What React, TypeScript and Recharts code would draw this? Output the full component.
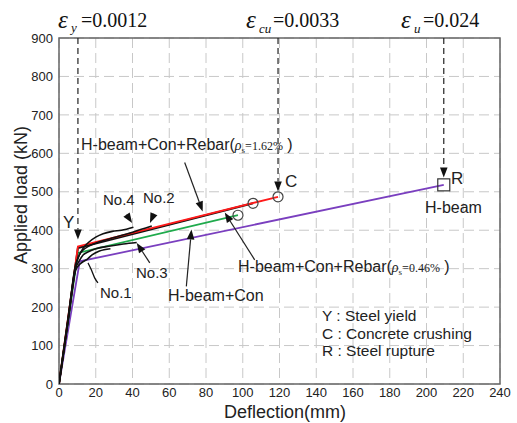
import React from 'react';
import {
  LineChart, Line, XAxis, YAxis, CartesianGrid, ReferenceLine, ReferenceDot, ReferenceArea, Customized,
} from 'recharts';

const xTicks = [0, 20, 40, 60, 80, 100, 120, 140, 160, 180, 200, 220, 240];
const yTicks = [0, 100, 200, 300, 400, 500, 600, 700, 800, 900];

// Analytical curves
const rebar162X = [0, 10.3, 119.2];
const rebar162Y = [0, 358, 487];
const rebar046X = [0, 10.3, 105.6];
const rebar046Y = [0, 354, 470];
const hbeamConX = [0, 10.3, 97.4];
const hbeamConY = [0, 341, 439];
const hbeamX = [0, 11.3, 209.4];
const hbeamY = [0, 319, 518];

// Experimental curves
const no1X = [0, 5, 9, 11, 13, 15.5, 18, 22, 28];
const no1Y = [0, 165, 295, 310, 318, 325, 336, 346, 352];
const no2X = [0, 5, 9, 11, 13, 16, 22, 30, 40, 50.5];
const no2Y = [0, 170, 305, 335, 348, 358, 370, 381, 395, 411];
const no3X = [0, 5, 9, 11, 13, 16, 20, 28, 35, 42.3];
const no3Y = [0, 168, 300, 320, 335, 344, 352, 359, 364, 368];
const no4X = [0, 5, 9, 11, 13, 16, 20, 24, 29, 34, 40.5];
const no4Y = [0, 172, 310, 335, 352, 368, 382, 391, 397, 400, 408];

// No.1 curved leader
const leader1X = [15.8, 17.6, 19.4, 21.2];
const leader1Y = [315, 297, 276, 263];

const zip = (xs: number[], ys: number[]) => xs.map((x, i) => ({ x, y: ys[i] }));

const SANS = 'Liberation Sans, Arial, sans-serif';
const SERIF = 'Liberation Serif, Times New Roman, serif';

const arrowShape = (dashed: boolean) => (props: any) => {
  const { x1, y1, x2, y2 } = props;
  const dx = x2 - x1;
  const dy = y2 - y1;
  const len = Math.hypot(dx, dy) || 1;
  const ux = dx / len;
  const uy = dy / len;
  const L = 10;
  const W = 3.8;
  const bx = x2 - ux * L;
  const by = y2 - uy * L;
  const pts = `${x2},${y2} ${bx - uy * W},${by + ux * W} ${bx + uy * W},${by - ux * W}`;
  return (
    <g>
      <line x1={x1} y1={y1} x2={bx} y2={by} stroke="#222" strokeWidth={1.2}
        strokeDasharray={dashed ? '6 4' : undefined} />
      <polygon points={pts} fill="#111" />
    </g>
  );
};

const squareShape = (props: any) => (
  <rect x={props.cx - 6} y={props.cy - 6} width={12} height={12} fill="none" stroke="#333" strokeWidth={1.2} />
);

const Annotations = () => (
  <g>
    {/* top strain labels */}
    <text x={58} y={28} fontFamily={SERIF} fontStyle="italic" fontSize={25} fill="#111">ε</text>
    <text x={71} y={32} fontFamily={SERIF} fontStyle="italic" fontSize={13} fill="#111">y</text>
    <text x={81} y={27} fontFamily={SERIF} fontSize={20} fill="#111">=0.0012</text>

    <text x={246} y={28} fontFamily={SERIF} fontStyle="italic" fontSize={25} fill="#111">ε</text>
    <text x={259} y={33} fontFamily={SERIF} fontStyle="italic" fontSize={13} fill="#111">cu</text>
    <text x={273} y={27} fontFamily={SERIF} fontSize={20} fill="#111">=0.0033</text>

    <text x={401} y={28} fontFamily={SERIF} fontStyle="italic" fontSize={25} fill="#111">ε</text>
    <text x={414} y={33} fontFamily={SERIF} fontStyle="italic" fontSize={13} fill="#111">u</text>
    <text x={423} y={27} fontFamily={SERIF} fontSize={20} fill="#111">=0.024</text>

    {/* curve labels */}
    <text x={81} y={150} fontFamily={SANS} fontSize={16} fill="#222">
      H-beam+Con+Rebar(
      <tspan fontFamily={SERIF} fontStyle="italic" fontSize={14}>ρ</tspan>
      <tspan fontFamily={SERIF} fontSize={9} dy={3}>s</tspan>
      <tspan fontFamily={SERIF} fontSize={12} dy={-3}>=1.62%</tspan>
      <tspan> )</tspan>
    </text>
    <text x={238} y={272} fontFamily={SANS} fontSize={16} fill="#222">
      H-beam+Con+Rebar(
      <tspan fontFamily={SERIF} fontStyle="italic" fontSize={14}>ρ</tspan>
      <tspan fontFamily={SERIF} fontSize={9} dy={3}>s</tspan>
      <tspan fontFamily={SERIF} fontSize={12} dy={-3}>=0.46%</tspan>
      <tspan> )</tspan>
    </text>
    <text x={168} y={301} fontFamily={SANS} fontSize={16} fill="#222">H-beam+Con</text>
    <text x={425} y={213} fontFamily={SANS} fontSize={16} fill="#222">H-beam</text>
    <text x={103} y={205} fontFamily={SANS} fontSize={15} fill="#222">No.4</text>
    <text x={143} y={203} fontFamily={SANS} fontSize={15} fill="#222">No.2</text>
    <text x={136} y={278} fontFamily={SANS} fontSize={15} fill="#222">No.3</text>
    <text x={100} y={298} fontFamily={SANS} fontSize={15} fill="#222">No.1</text>
    <text x={63} y={228} fontFamily={SANS} fontSize={17} fill="#222">Y</text>
    <text x={285} y={187} fontFamily={SANS} fontSize={17} fill="#222">C</text>
    <text x={451} y={184} fontFamily={SANS} fontSize={17} fill="#222">R</text>

    {/* legend */}
    <text x={322} y={321} fontFamily={SANS} fontSize={15.5} fill="#222">Y : Steel yield</text>
    <text x={322} y={338.5} fontFamily={SANS} fontSize={15.5} fill="#222">C : Concrete crushing</text>
    <text x={322} y={356} fontFamily={SANS} fontSize={15.5} fill="#222">R : Steel rupture</text>

    {/* axis titles */}
    <text x={285} y={418} textAnchor="middle" fontFamily={SANS} fontSize={18} fill="#222">Deflection(mm)</text>
    <text x={0} y={0} transform="translate(27,195) rotate(-90)" textAnchor="middle" fontFamily={SANS} fontSize={18} fill="#222">Applied load (kN)</text>
  </g>
);

export default function App() {
  const lineCommon = { dataKey: 'y', dot: false, isAnimationActive: false, activeDot: false } as const;
  return (
    <div style={{ position: 'absolute', left: 0, top: 0, background: '#fff' }}>
      <LineChart width={517} height={423} margin={{ top: 38, right: 17, left: 0, bottom: 0 }}>
        <CartesianGrid stroke="#c8c8c8" strokeDasharray="10 5" />
        <XAxis type="number" dataKey="x" domain={[0, 240]} ticks={xTicks} height={39}
          tickSize={0} tickMargin={4} axisLine={false} tickLine={false} allowDataOverflow
          tick={{ fontSize: 13, fill: '#222', fontFamily: SANS }} />
        <YAxis type="number" dataKey="y" domain={[0, 900]} ticks={yTicks} width={59}
          tickSize={0} tickMargin={6} axisLine={false} tickLine={false} allowDataOverflow
          tick={{ fontSize: 13, fill: '#222', fontFamily: SANS }} />
        <ReferenceArea x1={0} x2={240} y1={0} y2={900} fill="none" fillOpacity={0}
          stroke="#666" strokeWidth={1.5} ifOverflow="visible" />

        {/* dashed arrows for Y, C, R */}
        <ReferenceLine segment={[{ x: 10.3, y: 900 }, { x: 10.3, y: 376 }]} shape={arrowShape(true)} ifOverflow="visible" />
        <ReferenceLine segment={[{ x: 119.2, y: 900 }, { x: 119.2, y: 501 }]} shape={arrowShape(true)} ifOverflow="visible" />
        <ReferenceLine segment={[{ x: 209.4, y: 900 }, { x: 209.4, y: 537 }]} shape={arrowShape(true)} ifOverflow="visible" />

        <Line {...lineCommon} data={zip(hbeamX, hbeamY)} stroke="#7a3fbf" strokeWidth={1.8} />
        <Line {...lineCommon} data={zip(hbeamConX, hbeamConY)} stroke="#1faa4c" strokeWidth={1.8} />
        <Line {...lineCommon} data={zip(rebar046X, rebar046Y)} stroke="#111" strokeWidth={2} />
        <Line {...lineCommon} data={zip(rebar162X, rebar162Y)} stroke="#ff1a1a" strokeWidth={1.8} />

        <Line {...lineCommon} type="monotone" data={zip(no1X, no1Y)} stroke="#111" strokeWidth={1.6} />
        <Line {...lineCommon} type="monotone" data={zip(no2X, no2Y)} stroke="#111" strokeWidth={1.6} />
        <Line {...lineCommon} type="monotone" data={zip(no3X, no3Y)} stroke="#111" strokeWidth={1.6} />
        <Line {...lineCommon} type="monotone" data={zip(no4X, no4Y)} stroke="#111" strokeWidth={1.6} />
        <Line {...lineCommon} type="natural" data={zip(leader1X, leader1Y)} stroke="#111" strokeWidth={1.3} />

        {/* leader arrows */}
        <ReferenceLine segment={[{ x: 68.4, y: 576 }, { x: 78.2, y: 449 }]} shape={arrowShape(false)} ifOverflow="visible" />
        <ReferenceLine segment={[{ x: 36.7, y: 441 }, { x: 39.8, y: 419 }]} shape={arrowShape(false)} ifOverflow="visible" />
        <ReferenceLine segment={[{ x: 51.5, y: 441 }, { x: 49.5, y: 419 }]} shape={arrowShape(false)} ifOverflow="visible" />
        <ReferenceLine segment={[{ x: 49.4, y: 315 }, { x: 42.3, y: 367 }]} shape={arrowShape(false)} ifOverflow="visible" />
        <ReferenceLine segment={[{ x: 69.3, y: 254 }, { x: 72.1, y: 402 }]} shape={arrowShape(false)} ifOverflow="visible" />
        <ReferenceLine segment={[{ x: 106.5, y: 323 }, { x: 90.2, y: 446 }]} shape={arrowShape(false)} ifOverflow="visible" />

        {/* failure markers */}
        <ReferenceDot x={119.2} y={487} r={5} fill="none" stroke="#444" strokeWidth={1.2} ifOverflow="visible" />
        <ReferenceDot x={105.6} y={470} r={5} fill="none" stroke="#444" strokeWidth={1.2} ifOverflow="visible" />
        <ReferenceDot x={97.4} y={439} r={5} fill="none" stroke="#444" strokeWidth={1.2} ifOverflow="visible" />
        <ReferenceDot x={209.4} y={518} r={6} shape={squareShape} ifOverflow="visible" />

        <Customized component={Annotations} />
      </LineChart>
    </div>
  );
}
